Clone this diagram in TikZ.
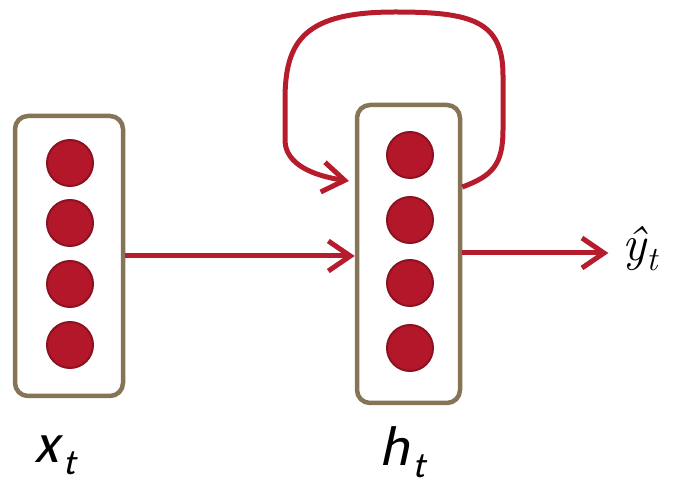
\documentclass[tikz,border=0pt]{standalone}
\usepackage{fontspec}
\newfontfamily\lblfont{Carlito}[FakeSlant=0.22]
\usetikzlibrary{arrows.meta}
\definecolor{boxc}{HTML}{857556}
\definecolor{redc}{HTML}{B71C2C}
\definecolor{dotf}{HTML}{B5172A}
\definecolor{dotd}{HTML}{8C1222}
\begin{document}
\begin{tikzpicture}[x=1pt,y=-1pt,
  layer/.style={draw=boxc,line width=4.5pt,rounded corners=13pt,fill=white,inner sep=0pt},
  unit/.style={circle,fill=dotf,draw=dotd,line width=2pt,minimum size=46pt,inner sep=0pt},
  arr/.style={draw=redc,line width=5pt,-{Straight Barb[length=22pt,width=30pt,line width=5pt]}},
  lbl/.style={font=\fontsize{56}{60}\selectfont\lblfont}]
\useasboundingbox (0,0) rectangle (673,486);
\node[layer,minimum width=108pt,minimum height=280pt] (L) at (69,256) {};
\node[layer,minimum width=103pt,minimum height=298pt] (R) at (408.5,254) {};
\foreach \y [count=\i] in {163,223,284,345} \node[unit] (l\i) at (70,\y) {};
\foreach \y [count=\i] in {155,220,283,348} \node[unit] (r\i) at (410,\y) {};
\node[lbl] (xt) at (55,455) {x\kern4pt\raisebox{-0.22em}{\fontsize{36}{38}\selectfont t}};
\node[lbl] (ht) at (402,452) {h\kern4pt\raisebox{-0.22em}{\fontsize{36}{38}\selectfont t}};
\node[inner sep=2pt,font=\fontsize{50}{54}\selectfont\itshape] (yt) at (640,249) {\^{y}\raisebox{-0.2em}{\fontsize{34}{36}\selectfont t}};
\draw[arr] (L.east) -- (L.east -| R.west);
\draw[arr] ([yshift=1pt]R.east) -- ([yshift=1pt,xshift=-12pt]R.east -| yt.west);
\coordinate (ls) at ([yshift=67pt]R.east);
\coordinate (le) at (349,181);
\draw[arr] (ls) .. controls (492,176) and (503,165) .. (503,130)
  -- (503,75) .. controls (503,20) and (470,12) .. (395,12)
  .. controls (305,12) and (285,40) .. (285,100)
  -- (285,140) .. controls (285,165) and (315,176) .. (le);
\end{tikzpicture}
\end{document}
